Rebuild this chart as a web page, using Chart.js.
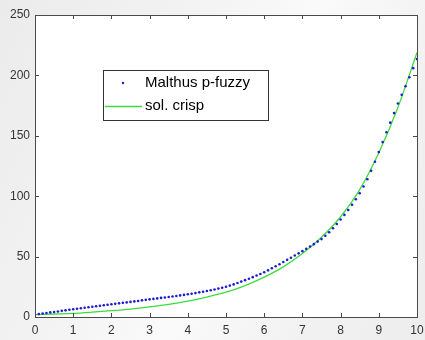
<!DOCTYPE html>
<html>
<head>
<meta charset="utf-8">
<script src="https://cdn.jsdelivr.net/npm/chart.js@4.4.1/dist/chart.umd.min.js"></script>
<style>
  html, body { margin: 0; padding: 0; }
  body {
    width: 425px; height: 340px; overflow: hidden;
    background: linear-gradient(115deg, #ebebeb 0%, #f3f3f3 35%, #fafafa 55%, #f1f1f1 80%, #ededed 100%);
  }
  #grafico { display: block; }
</style>
</head>
<body>
<canvas id="grafico" width="425" height="340"></canvas>
<script>
// Modelo de Malthus: solución p-fuzzy (puntos) vs solución crisp (línea)

// ---------- Datos ----------
const etiquetas = ['Malthus p-fuzzy', 'sol. crisp']

// p-fuzzy: un punto cada 0.1 en t = 0 .. 10
const pasoFuzzy = 0.1
const valoresFuzzy = [
  2.0, 2.4, 2.9, 3.3, 3.8, 4.2, 4.6, 5.1, 5.5, 6.0,
  6.4, 6.8, 7.2, 7.7, 8.1, 8.5, 8.9, 9.3, 9.7, 10.1,
  10.5, 10.9, 11.3, 11.7, 12.1, 12.5, 12.9, 13.3, 13.8, 14.2,
  14.6, 15.0, 15.4, 15.8, 16.2, 16.6, 17.0, 17.4, 17.9, 18.3,
  18.8, 19.3, 19.8, 20.4, 20.9, 21.5, 22.1, 22.8, 23.5, 24.2,
  25.0, 26.0, 27.0, 28.1, 29.3, 30.5, 31.7, 33.0, 34.3, 35.6,
  37.0, 38.6, 40.3, 42.0, 43.7, 45.5, 47.3, 49.1, 50.9, 52.7,
  54.5, 56.4, 58.3, 60.3, 62.4, 64.5, 67.2, 70.2, 73.5, 77.0,
  80.7, 84.5, 88.6, 92.9, 97.5, 102.5, 108.0, 114.0, 121.0, 128.5,
  136.5, 144.8, 152.9, 160.9, 168.8, 176.7, 184.0, 191.0, 198.5, 206.0,
  213.5
]

// solución crisp, leída cada 0.5
const tiempoCrisp = [0, 0.5, 1, 1.5, 2, 2.5, 3, 3.5, 4, 4.5, 5, 5.5, 6, 6.5, 7, 7.5, 8, 8.5, 9, 9.5, 10]
const valoresCrisp = [2.0, 2.5, 3.0, 4.0, 5.2, 6.6, 8.4, 10.5, 13.2, 16.5, 20.5, 26.0, 33.0, 41.5, 52.5, 66.0, 83.0, 105.5, 136.0, 173.5, 219.0]

const ticksX = [0, 1, 2, 3, 4, 5, 6, 7, 8, 9, 10]
const ticksY = [0, 50, 100, 150, 200, 250]

// ---------- Estilo ----------
const AZUL = '#1c1cd0'
const VERDE = '#3ddc3d'
const EJE = '#4a4a4a'
const FUENTE = "'Liberation Sans', Arial, sans-serif"

const puntosFuzzy = valoresFuzzy.map((v, i) => ({ x: Math.round(i * pasoFuzzy * 10) / 10, y: v }))
const puntosCrisp = tiempoCrisp.map((t, i) => ({ x: t, y: valoresCrisp[i] }))

// Fondo blanco del área, caja con ticks hacia adentro y leyenda estilo MATLAB
const estiloMatlab = {
  id: 'estiloMatlab',
  beforeDatasetsDraw(chart) {
    const { ctx, chartArea: a } = chart
    ctx.save()
    ctx.fillStyle = '#fff'
    ctx.fillRect(a.left, a.top, a.right - a.left, a.bottom - a.top)
    ctx.restore()
  },
  afterDatasetsDraw(chart) {
    const { ctx, chartArea: a, scales } = chart
    const largo = 4
    ctx.save()
    ctx.strokeStyle = EJE
    ctx.lineWidth = 1
    ctx.beginPath()
    ticksX.forEach(t => {
      const px = Math.round(scales.x.getPixelForValue(t)) + 0.5
      ctx.moveTo(px, a.bottom); ctx.lineTo(px, a.bottom - largo)
      ctx.moveTo(px, a.top); ctx.lineTo(px, a.top + largo)
    })
    ticksY.forEach(v => {
      const py = Math.round(scales.y.getPixelForValue(v)) + 0.5
      ctx.moveTo(a.left, py); ctx.lineTo(a.left + largo, py)
      ctx.moveTo(a.right, py); ctx.lineTo(a.right - largo, py)
    })
    ctx.stroke()
    ctx.strokeRect(Math.round(a.left) + 0.5, Math.round(a.top) + 0.5,
      Math.round(a.right - a.left), Math.round(a.bottom - a.top))

    // leyenda
    const lx = a.left + 68, ly = a.top + 55, lw = 165, lh = 50
    ctx.fillStyle = '#fff'
    ctx.fillRect(lx, ly, lw, lh)
    ctx.strokeStyle = '#333'
    ctx.strokeRect(lx + 0.5, ly + 0.5, lw, lh)
    ctx.fillStyle = AZUL
    ctx.beginPath()
    ctx.arc(lx + 20, ly + 13, 1.2, 0, Math.PI * 2)
    ctx.fill()
    ctx.strokeStyle = VERDE
    ctx.lineWidth = 1.3
    ctx.beginPath()
    ctx.moveTo(lx + 2, ly + 36.5); ctx.lineTo(lx + 39, ly + 36.5)
    ctx.stroke()
    ctx.fillStyle = '#000'
    ctx.font = '15px ' + FUENTE
    ctx.textBaseline = 'middle'
    ctx.textAlign = 'left'
    ctx.fillText(etiquetas[0], lx + 42, ly + 13)
    ctx.fillText(etiquetas[1], lx + 42, ly + 36)
    ctx.restore()
  }
}

new Chart(document.getElementById('grafico'), {
  type: 'scatter',
  data: {
    datasets: [{
      label: etiquetas[0],
      data: puntosFuzzy,
      showLine: false,
      pointRadius: 1.3,
      pointBorderWidth: 0,
      pointBackgroundColor: AZUL,
      pointBorderColor: AZUL
    }, {
      label: etiquetas[1],
      data: puntosCrisp,
      showLine: true,
      borderColor: VERDE,
      borderWidth: 1.3,
      cubicInterpolationMode: 'monotone',
      pointRadius: 0
    }]
  },
  options: {
    responsive: false,
    animation: false,
    devicePixelRatio: 1,
    layout: { padding: { left: 0, right: 8, top: 15, bottom: 0 } },
    plugins: { legend: { display: false }, tooltip: { enabled: false } },
    scales: {
      x: {
        type: 'linear', min: 0, max: 10,
        afterFit: s => { s.height = 23; s.paddingLeft = 0; s.paddingRight = 0 },
        afterBuildTicks: s => { s.ticks = ticksX.map(v => ({ value: v })) },
        grid: { display: false, drawTicks: false },
        border: { display: false },
        ticks: { color: '#333', padding: 6, maxRotation: 0, font: { family: FUENTE, size: 12 } }
      },
      y: {
        type: 'linear', min: 0, max: 250,
        afterFit: s => { s.width = 35; s.paddingTop = 0; s.paddingBottom = 0 },
        afterBuildTicks: s => { s.ticks = ticksY.map(v => ({ value: v })) },
        grid: { display: false, drawTicks: false },
        border: { display: false },
        ticks: { color: '#333', padding: 5, font: { family: FUENTE, size: 12 } }
      }
    }
  },
  plugins: [estiloMatlab]
})
</script>
</body>
</html>
